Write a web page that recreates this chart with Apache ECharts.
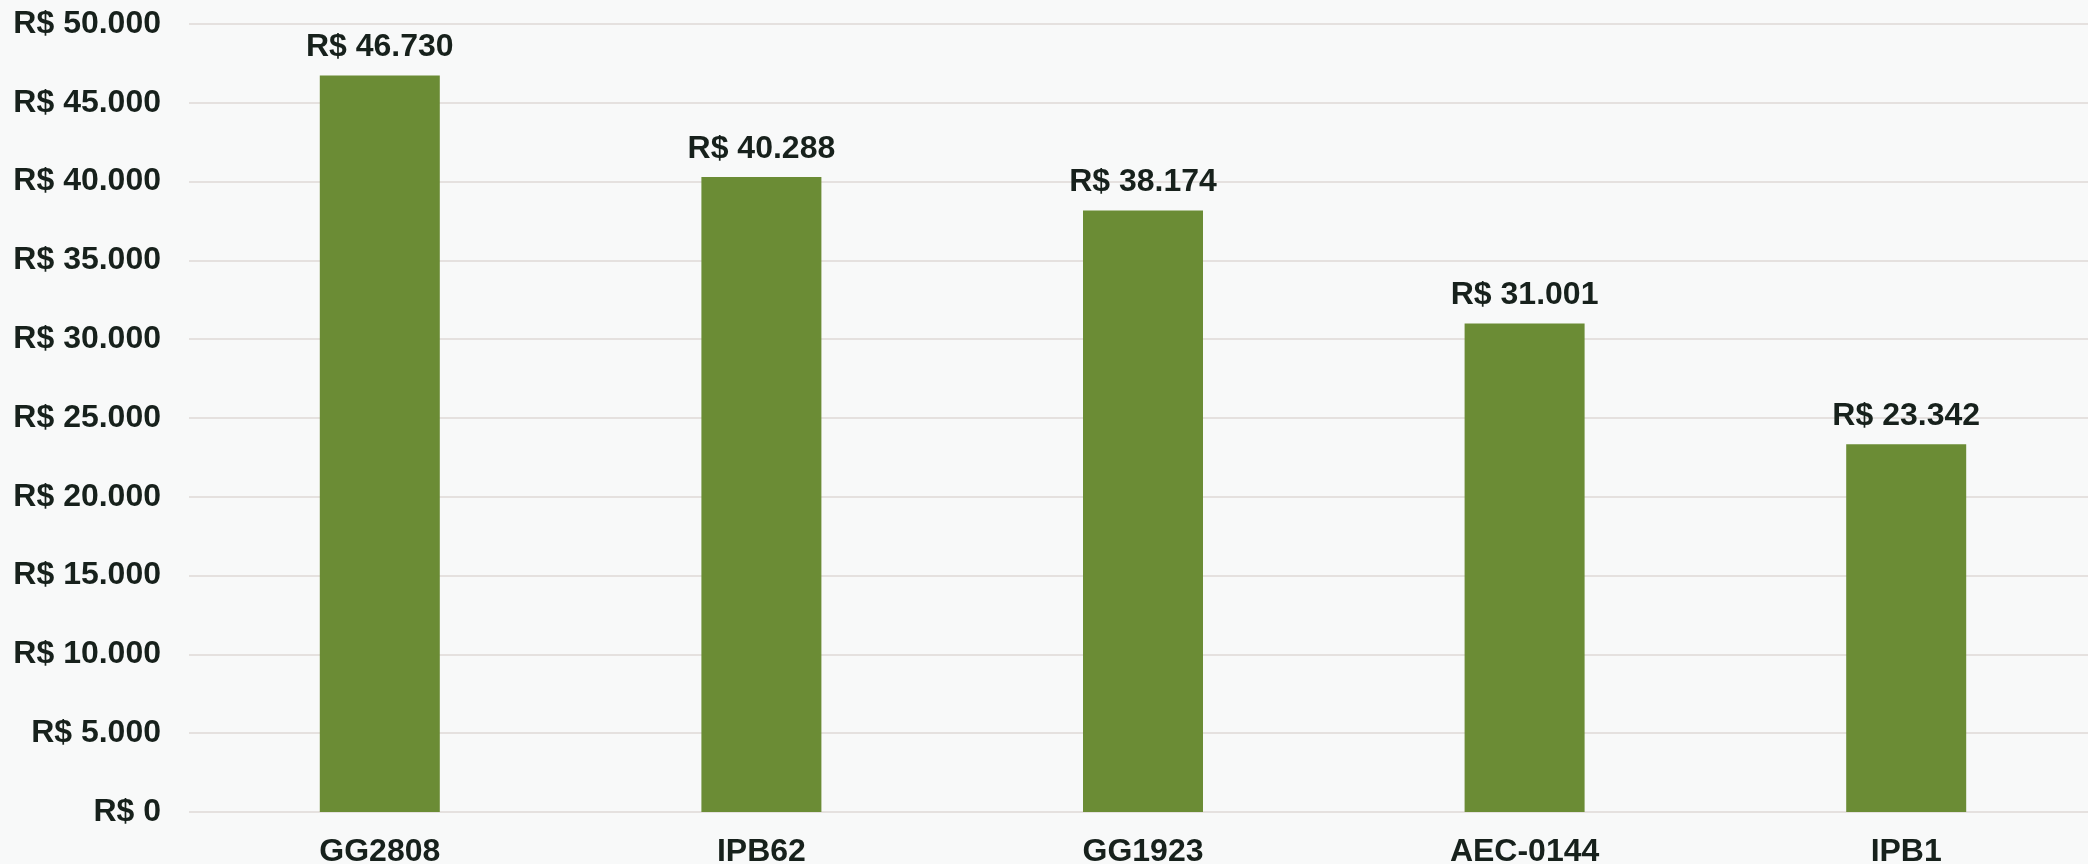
<!DOCTYPE html>
<html>
<head>
<meta charset="utf-8">
<script src="https://cdn.jsdelivr.net/npm/echarts@6/dist/echarts.min.js"></script>
<style>
  html, body { margin: 0; padding: 0; background: #f8f9f9; }
  #chart { width: 2088px; height: 864px; }
</style>
</head>
<body>
<div id="chart"></div>
<script>
const categories = ['GG2808', 'IPB62', 'GG1923', 'AEC-0144', 'IPB1'];
const values = [46730, 40288, 38174, 31001, 23342];
const yTicks = { min: 0, max: 50000, interval: 5000 };

// formato brasileiro: R$ 46.730
function brl(v) {
  let s = String(Math.round(v));
  return 'R$ ' + s.replace(/\B(?=(\d{3})+(?!\d))/g, '.');
}

const chart = echarts.init(document.getElementById('chart'));
const font = 'Liberation Sans, Arial, sans-serif';
const textColor = '#17211c';

let option = {
  backgroundColor: '#f8f9f9',
  animation: false,
  grid: {
    left: 189,
    width: 1908,
    top: 24,
    bottom: 52,
    outerBoundsMode: 'none'
  },
  xAxis: {
    type: 'category',
    data: categories,
    axisLine: { show: false },
    axisTick: { show: false },
    axisLabel: {
      color: textColor,
      fontFamily: font,
      fontWeight: 'bold',
      fontSize: 32,
      margin: 24
    }
  },
  yAxis: {
    type: 'value',
    min: yTicks.min,
    max: yTicks.max,
    interval: yTicks.interval,
    axisLine: { show: false },
    axisTick: { show: false },
    splitLine: {
      lineStyle: { color: '#e5e1df', width: 2 }
    },
    axisLabel: {
      color: textColor,
      fontFamily: font,
      fontWeight: 'bold',
      fontSize: 32,
      margin: 28,
      formatter: brl
    }
  },
  series: [{
    type: 'bar',
    data: values,
    barWidth: 120,
    itemStyle: { color: '#6b8c35' },
    label: {
      show: true,
      position: 'top',
      distance: 12,
      color: textColor,
      fontFamily: font,
      fontWeight: 'bold',
      fontSize: 32,
      formatter: p => brl(p.value)
    }
  }]
};

chart.setOption(option);
</script>
</body>
</html>
